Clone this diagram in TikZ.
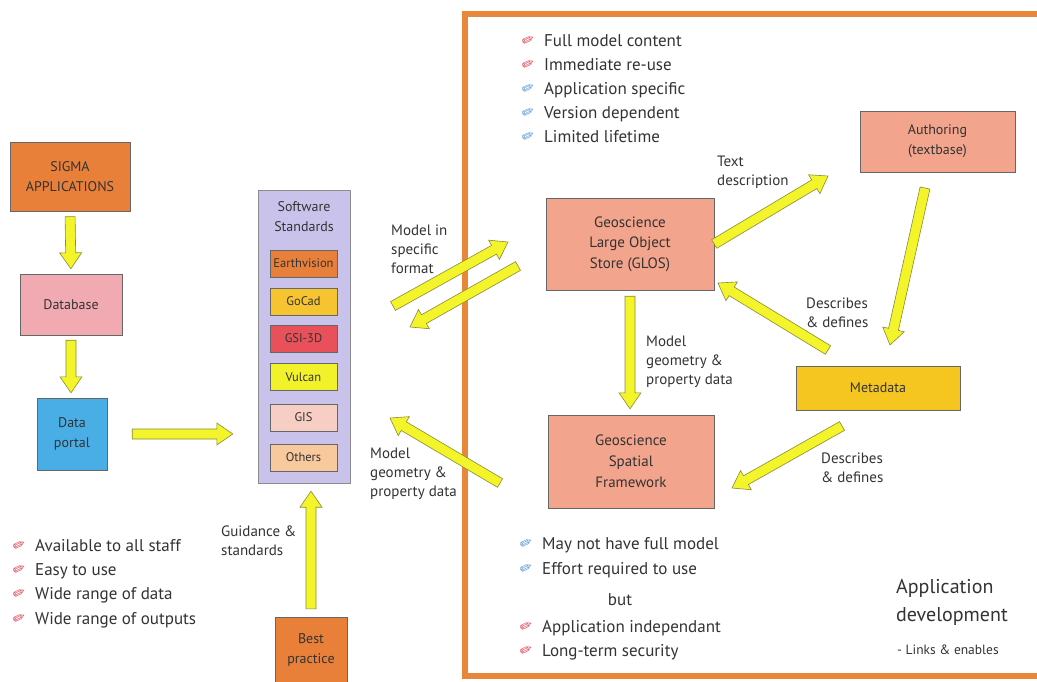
\documentclass[tikz,border=0pt]{standalone}
\usepackage{fontspec}
\setmainfont{PT Sans}
\newfontfamily\symfont{DejaVu Sans}
\usetikzlibrary{positioning,calc}
\definecolor{sigmaorange}{HTML}{E8803A}
\definecolor{dbpink}{HTML}{F2AAB2}
\definecolor{portalblue}{HTML}{4AAEE6}
\definecolor{swlilac}{HTML}{C9C3EC}
\definecolor{gocadgold}{HTML}{F5C430}
\definecolor{gsired}{HTML}{E8505A}
\definecolor{vulcanyellow}{HTML}{F2F22A}
\definecolor{gispink}{HTML}{F7CEC4}
\definecolor{otherpeach}{HTML}{F7C99C}
\definecolor{glossalmon}{HTML}{F2A48C}
\definecolor{metagold}{HTML}{F5C520}
\definecolor{frameorange}{HTML}{E8873A}
\definecolor{arrowyellow}{HTML}{F4F42A}
\definecolor{arrowedge}{HTML}{8A8A3A}
\definecolor{markred}{HTML}{E04858}
\definecolor{markblue}{HTML}{5A9AD8}
\definecolor{labelgray}{HTML}{333333}
\tikzset{
  figbox/.style={draw=black!60, align=center, inner sep=2pt, text=black!80,
    font=\fontsize{14}{20}\selectfont},
  softbox/.style={draw=black!60, minimum width=67pt, minimum height=27pt,
    text=black!80, font=\fontsize{12.5}{13}\selectfont},
  figlabel/.style={align=left, anchor=west, inner sep=0pt, text=labelgray,
    font=\fontsize{15}{18.8}\selectfont},
  bullet/.style={anchor=west, inner sep=0pt, text=labelgray, text height=12pt,
    text depth=4pt, font=\fontsize{17}{20}\selectfont},
  bigarrow/.style={draw=arrowedge, fill=arrowyellow, line width=0.6pt},
}
\newcommand{\penmark}[1]{\makebox[23pt][l]{\raisebox{-1pt}{\rotatebox{25}{\symfont\fontsize{15}{15}\selectfont\color{#1}✏}}}}
% fat yellow arrow from #2 to #3, both ends pulled in by #1
\newcommand{\fatarrow}[3][0pt]{%
  \coordinate (fa-s) at ($(#2)!#1!(#3)$);
  \coordinate (fa-e) at ($(#3)!#1!(#2)$);
  \coordinate (fa-h) at ($(fa-e)!16pt!(fa-s)$);
  \draw[bigarrow] ($(fa-s)!5pt!90:(fa-e)$) -- ($(fa-h)!5pt!-90:(fa-s)$)
    -- ($(fa-h)!11pt!-90:(fa-s)$) -- (fa-e) -- ($(fa-h)!11pt!90:(fa-s)$)
    -- ($(fa-h)!5pt!90:(fa-s)$) -- ($(fa-s)!5pt!-90:(fa-e)$) -- cycle;
}
\begin{document}
\begin{tikzpicture}[x=1pt, y=-1pt]
  \useasboundingbox[fill=white] (0,0) rectangle (1037,681);

  % application development frame (runs off the right edge)
  \draw[frameorange, line width=5.5pt] (465,14) rectangle (1060,676);

  % left column
  \node[figbox, fill=sigmaorange, minimum width=120pt, minimum height=69pt] (sigma) at (70,177) {SIGMA\\APPLICATIONS};
  \node[figbox, fill=dbpink, minimum width=102pt, minimum height=61pt] (db) at (71,304.5) {Database};
  \node[figbox, fill=portalblue, minimum width=70pt, minimum height=72pt] (portal) at (72,434) {Data\\portal};

  % software standards column
  \node[figbox, fill=swlilac, draw=black!45, minimum width=92pt, minimum height=293pt] (sw) at (304,336.5) {};
  \node[figbox, draw=none, font=\fontsize{14}{20}\selectfont] (sw-title) at (304,217) {Software\\Standards};
  \node[softbox, fill=sigmaorange] (earth) at (303.5,263.5) {Earthvision};
  \node[softbox, fill=gocadgold] (gocad) at (303.5,301.5) {GoCad};
  \node[softbox, fill=gsired] (gsi) at (303.5,338.5) {GSI-3D};
  \node[softbox, fill=vulcanyellow] (vulcan) at (303.5,377) {Vulcan};
  \node[softbox, fill=gispink] (gis) at (303.5,417.5) {GIS};
  \node[softbox, fill=otherpeach] (others) at (303.5,457.5) {Others};

  \node[figbox, fill=sigmaorange, minimum width=72pt, minimum height=66pt] (best) at (311,650) {Best\\practice};

  % model stores
  \node[figbox, fill=glossalmon, minimum width=168pt, minimum height=92pt, font=\fontsize{15}{20.5}\selectfont] (glos) at (630,244) {Geoscience\\Large Object\\Store (GLOS)};
  \node[figbox, fill=glossalmon, minimum width=166pt, minimum height=93pt, font=\fontsize{15}{21}\selectfont] (ssf) at (631,461.5) {Geoscience\\Spatial\\Framework};
  \node[figbox, fill=glossalmon, minimum width=155pt, minimum height=61pt] (auth) at (937.5,141.5) {Authoring\\(textbase)};
  \node[figbox, fill=metagold, minimum width=164pt, minimum height=44pt] (meta) at (878,388) {Metadata};

  % free arrow ends
  \coordinate (fmt-a) at (393,306);
  \coordinate (fmt-b) at (508,242);
  \coordinate (fmt-c) at (518,266);
  \coordinate (fmt-d) at (410,327);
  \coordinate (geo-a) at (500,483);
  \coordinate (geo-b) at (390,418);
  \coordinate (txt-b) at (828,176);
  \coordinate (auth-a) at (925,188);
  \coordinate (meta-in) at (890,345);
  \coordinate (def-a) at (828,350);
  \coordinate (def-b) at (718,283);
  \coordinate (def-c) at (842,426);
  \coordinate (def-d) at (732,488);

  % arrows
  \fatarrow[5pt]{sigma.south}{db.north}
  \fatarrow[5pt]{db.south}{db.south |- portal.north}
  \fatarrow[25pt]{portal.east}{portal.east -| sw.west}
  \fatarrow[8pt]{best.north}{best.north |- sw.south}
  \fatarrow{fmt-a}{fmt-b}
  \fatarrow{fmt-c}{fmt-d}
  \fatarrow{geo-a}{geo-b}
  \fatarrow{glos.east}{txt-b}
  \fatarrow{auth-a}{meta-in}
  \fatarrow{def-a}{def-b}
  \fatarrow[6pt]{glos.south}{glos.south |- ssf.north}
  \fatarrow{def-c}{def-d}

  % arrow labels
  \node[figlabel] (fmt-lbl) at (391,249) {Model in\\specific\\format};
  \node[figlabel] (geo-lbl) at (370,474) {Model\\geometry \&\\property data};
  \node[figlabel] (guide-lbl) at (221,541) {Guidance \&\\standards};
  \node[figlabel] (txt-lbl) at (717,172) {Text\\description};
  \node[figlabel] (def-lbl) at (806,313) {Describes\\\& defines};
  \node[figlabel] (mod-lbl) at (646,362) {Model\\geometry \&\\property data};
  \node[figlabel] (def2-lbl) at (821,468) {Describes\\\& defines};

  % bullet lists
  \foreach \txt [count=\i] in {Available to all staff, Easy to use, Wide range of data, Wide range of outputs}
    \node[bullet] (staff-\i) at (12,{547+24.4*(\i-1)}) {\penmark{markred}\txt};
  \foreach \txt/\col [count=\i] in {Full model content/markred, Immediate re-use/markred,
      Application specific/markblue, Version dependent/markblue, Limited lifetime/markblue}
    \node[bullet] (glos-\i) at (521,{42+24.2*(\i-1)}) {\penmark{\col}\txt};
  \node[bullet] (ssf-1) at (519,545) {\penmark{markblue}May not have full model};
  \node[bullet] (ssf-2) at (519,570) {\penmark{markblue}Effort required to use};
  \node[bullet, anchor=center] (ssf-but) at (620,601) {but};
  \node[bullet] (ssf-3) at (519,628) {\penmark{markred}Application independant};
  \node[bullet] (ssf-4) at (519,652) {\penmark{markred}Long-term security};

  % frame caption
  \node[anchor=west, align=left, inner sep=0pt, text=labelgray, font=\fontsize{20}{28}\selectfont] (appdev) at (896,602) {Application\\development};
  \node[figlabel, font=\fontsize{13.5}{14}\selectfont] (links) at (897,650) {- Links \& enables};
\end{tikzpicture}
\end{document}
